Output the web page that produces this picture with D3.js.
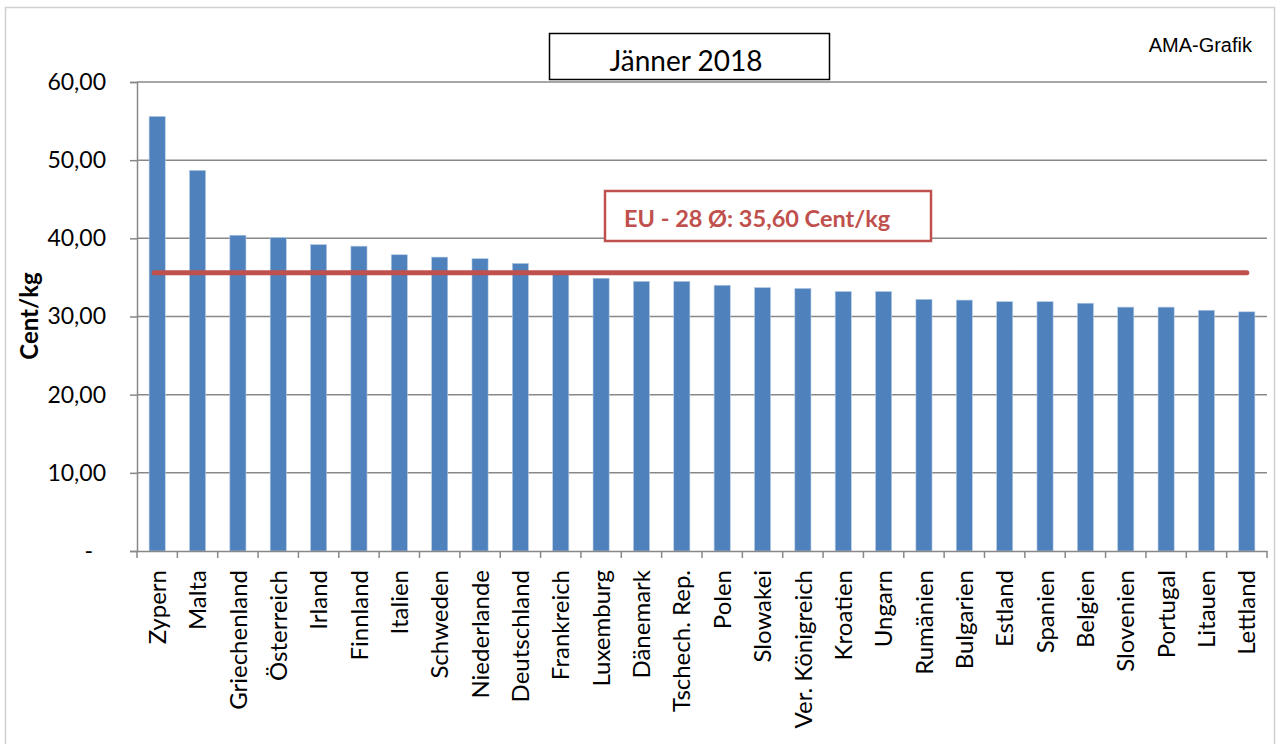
<!DOCTYPE html>
<html><head><meta charset="utf-8">
<script src="https://cdn.jsdelivr.net/npm/d3@7"></script>
<style>body{margin:0;background:#fff}svg{display:block}</style>
</head><body>
<svg id="c" width="1280" height="744"></svg>
<script>
const categories = ["Zypern","Malta","Griechenland","Österreich","Irland","Finnland","Italien","Schweden","Niederlande","Deutschland","Frankreich","Luxemburg","Dänemark","Tschech. Rep.","Polen","Slowakei","Ver. Königreich","Kroatien","Ungarn","Rumänien","Bulgarien","Estland","Spanien","Belgien","Slovenien","Portugal","Litauen","Lettland"];
const values = [55.6,48.7,40.4,40.1,39.2,39.0,37.9,37.6,37.4,36.8,35.5,34.9,34.5,34.5,34.0,33.7,33.6,33.2,33.2,32.2,32.1,31.9,31.9,31.7,31.2,31.2,30.8,30.6];
const euAverage = 35.60;
const yTicks = [0,10,20,30,40,50,60];
const titleText = "Jänner 2018";
const sourceText = "AMA-Grafik";
const yAxisTitle = "Cent/kg";
const euLabel = "EU - 28 Ø: 35,60 Cent/kg";

const svg = d3.select("#c");
const L = 137, R = 1267, T = 82, B = 551;
const font = "Lato, 'Open Sans', sans-serif";

// outer frame
svg.append("rect").attr("x",5.5).attr("y",7.5).attr("width",1269).attr("height",760)
  .attr("fill","none").attr("stroke","#d0d0d0").attr("stroke-width",1.5);

const x = d3.scaleBand().domain(categories).range([L,R]).paddingInner(0.6).paddingOuter(0.3);
const y = d3.scaleLinear().domain([0,60]).range([B,T]);

// gridlines
svg.append("g").selectAll("line").data(yTicks.filter(d=>d>0)).join("line")
  .attr("x1",L).attr("x2",R).attr("y1",d=>y(d)).attr("y2",d=>y(d))
  .attr("stroke","#888888").attr("stroke-width",1.5);

// bars
svg.append("g").selectAll("rect").data(values).join("rect")
  .attr("x",(d,i)=>x(categories[i])).attr("width",x.bandwidth())
  .attr("y",d=>y(d)).attr("height",d=>y(0)-y(d))
  .attr("fill","#4F81BD").attr("stroke","#B9CDE5").attr("stroke-width",0.6);

// y axis
const yAxis = d3.axisLeft(y).tickValues(yTicks).tickSize(7).tickPadding(24)
  .tickFormat(d=> d===0 ? "-" : d3.format(".2f")(d).replace(".",","));
const gy = svg.append("g").attr("transform",`translate(${L},0)`).call(yAxis);
gy.select(".domain").attr("stroke","#888888").attr("stroke-width",1.5);
gy.selectAll(".tick line").attr("stroke","#888888").attr("stroke-width",1.5);
gy.selectAll(".tick text").attr("font-family",font).attr("font-size",23).attr("fill","#000")
  .attr("dx",d=>d===0? -13 : 0);

// x axis
const xAxis = d3.axisBottom(x).tickSize(0).tickPadding(0);
const gx = svg.append("g").attr("transform",`translate(0,${B})`).call(xAxis);
gx.select(".domain").attr("stroke","#888888").attr("stroke-width",1.5);
gx.selectAll(".tick text").attr("font-family",font).attr("font-size",24).attr("fill","#000")
  .attr("text-anchor","end").attr("transform","rotate(-90)").attr("x",-19).attr("y",0).attr("dy","0.36em");
// category separator ticks
const bounds = d3.range(categories.length+1).map(i=> L + i*x.step());
svg.append("g").selectAll("line").data(bounds).join("line")
  .attr("x1",d=>d).attr("x2",d=>d).attr("y1",B).attr("y2",B+7)
  .attr("stroke","#888888").attr("stroke-width",1.5);

// EU average line
svg.append("line")
  .attr("x1",x(categories[0])+x.bandwidth()/2-3).attr("x2",x(categories[categories.length-1])+x.bandwidth()/2)
  .attr("y1",y(euAverage)).attr("y2",y(euAverage))
  .attr("stroke","#C0504D").attr("stroke-width",5).attr("stroke-linecap","round");

// EU label box
svg.append("rect").attr("x",605).attr("y",191).attr("width",326).attr("height",50)
  .attr("fill","#fff").attr("stroke","#C0504D").attr("stroke-width",2.5);
svg.append("text").attr("x",624).attr("y",227).attr("font-family",font).attr("font-weight","bold")
  .attr("font-size",23.5).attr("fill","#C0504D").text(euLabel);

// title box
svg.append("rect").attr("x",549.5).attr("y",33.5).attr("width",280).attr("height",46)
  .attr("fill","#fff").attr("stroke","#000").attr("stroke-width",1.5);
svg.append("text").attr("x",686).attr("y",71).attr("text-anchor","middle").attr("font-family",font)
  .attr("font-size",28).attr("fill","#000").text(titleText);

// source
svg.append("text").attr("x",1252).attr("y",52).attr("text-anchor","end")
  .attr("font-family","'Liberation Sans', Arial, sans-serif").attr("font-size",20).attr("fill","#000").text(sourceText);

// y axis title
svg.append("text").attr("transform","translate(38,316) rotate(-90)").attr("text-anchor","middle")
  .attr("font-family",font).attr("font-weight","bold").attr("font-size",24).attr("fill","#000").text(yAxisTitle);
</script>
</body></html>
